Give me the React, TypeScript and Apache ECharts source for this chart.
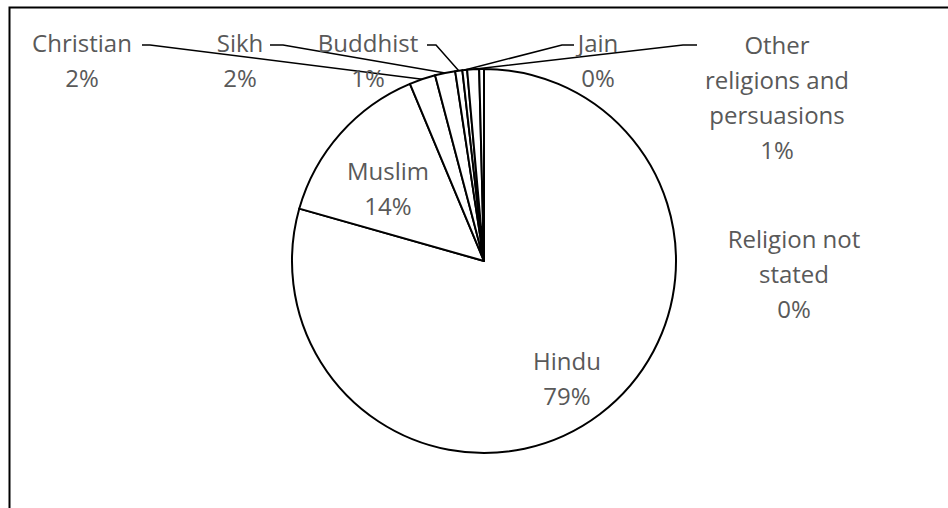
import React, { useEffect, useRef } from "react";
import * as echarts from "echarts";

// ---- data ----
const categories = [
  "Hindu",
  "Muslim",
  "Christian",
  "Sikh",
  "Buddhist",
  "Jain",
  "Other religions and persuasions",
  "Religion not stated",
];
const shareValues = [79.4, 14.3, 2.2, 1.7, 0.6, 0.4, 1.0, 0.4];
const labelNames = [
  "Hindu",
  "Muslim",
  "Christian",
  "Sikh",
  "Buddhist",
  "Jain",
  "Other\nreligions and\npersuasions",
  "Religion not\nstated",
];

// ---- layout (positions / styles) ----
const labelPos: [number, number][] = [
  [567, 378],
  [388, 188],
  [82, 60],
  [240, 60],
  [368, 60],
  [598, 60],
  [777, 97],
  [794, 273],
];
const insideLabel = [true, true, false, false, false, false, false, false];
const leaderEnds: ([number, number][] | null)[] = [
  null,
  null,
  [[150, 45], [142, 45]],
  [[283, 45], [270, 45]],
  [[436, 45], [427, 45]],
  [[562, 45], [574, 45]],
  [[683, 45], [697, 45]],
  null,
];

export default function App() {
  const ref = useRef<HTMLDivElement>(null);
  useEffect(() => {
    if (!ref.current) return;
    const chart = echarts.init(ref.current, undefined, { renderer: "svg" });
    const data = categories.map((name, i) => ({
      name,
      value: shareValues[i],
      label: { position: insideLabel[i] ? "inside" : "outside" },
      labelLine: { show: !!leaderEnds[i] },
    }));
    chart.setOption({
      animation: false,
      backgroundColor: "#ffffff",
      graphic: [
        {
          type: "rect",
          shape: { x: 9.5, y: 7.5, width: 1000, height: 600 },
          style: { fill: "none", stroke: "#000000", lineWidth: 2 },
          silent: true,
        },
      ],
      series: [
        {
          type: "pie",
          center: [484, 261],
          radius: [0, 192],
          startAngle: 90,
          clockwise: true,
          avoidLabelOverlap: false,
          data,
          itemStyle: { color: "#ffffff", borderColor: "#000000", borderWidth: 2 },
          emphasis: { disabled: true },
          label: {
            show: true,
            color: "#595959",
            fontFamily: "Open Sans",
            fontSize: 24,
            lineHeight: 35,
            align: "center",
            formatter: (p: any) =>
              labelNames[p.dataIndex] + "\n" + Math.round(p.percent) + "%",
          },
          labelLine: {
            show: true,
            lineStyle: { color: "#000000", width: 1.5 },
          },
          labelLayout: (params: any) => {
            const i = params.dataIndex;
            const pos = labelPos[i];
            const res: any = {
              x: pos[0],
              y: pos[1],
              align: "center",
              verticalAlign: "middle",
            };
            const le = leaderEnds[i];
            if (le && params.labelLinePoints) {
              res.labelLinePoints = [params.labelLinePoints[0], le[0], le[1]];
            }
            return res;
          },
        },
      ],
    });
    return () => chart.dispose();
  }, []);
  return (
    <div
      ref={ref}
      style={{ position: "absolute", left: 0, top: 0, width: 948, height: 508 }}
    />
  );
}
